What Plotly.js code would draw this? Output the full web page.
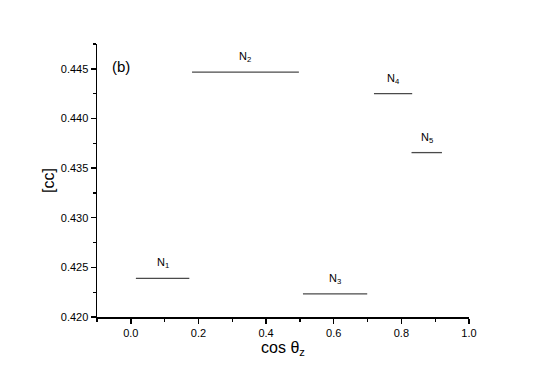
<!DOCTYPE html>
<html>
<head>
<meta charset="utf-8">
<script src="https://cdn.plot.ly/plotly-3.0.1.min.js"></script>
<style>
  html, body { margin: 0; padding: 0; background: #fff; }
  #chart { width: 545px; height: 380px; }
</style>
</head>
<body>
<div id="chart"></div>
<script>
// segmentos horizontais
var names = ['N<sub>1</sub>', 'N<sub>2</sub>', 'N<sub>3</sub>', 'N<sub>4</sub>', 'N<sub>5</sub>'];
var xStart = [0.015, 0.181, 0.509, 0.719, 0.830];
var xEnd = [0.173, 0.497, 0.699, 0.832, 0.920];
var cc = [0.4239, 0.44467, 0.42232, 0.44251, 0.43656];

var data = [];
var annotations = [];
for (var i = 0; i < names.length; i++) {
    data.push({
        x: [xStart[i], xEnd[i]],
        y: [cc[i], cc[i]],
        mode: 'lines',
        type: 'scatter',
        line: { color: '#4a4a4a', width: 1.3 },
        hoverinfo: 'none'
    });
    annotations.push({
        x: (xStart[i] + xEnd[i]) / 2,
        y: cc[i],
        xref: 'x',
        yref: 'y',
        text: names[i],
        showarrow: false,
        yshift: 15,
        font: { family: 'Arial, Liberation Sans, sans-serif', size: 11, color: '#000' }
    });
}

annotations.push({
    xref: 'paper',
    yref: 'paper',
    x: 0.065,
    y: 0.955,
    xanchor: 'center',
    text: '(b)',
    showarrow: false,
    font: { family: 'Arial, Liberation Sans, sans-serif', size: 15, color: '#000' }
});

var tickFont = { family: 'Arial, Liberation Sans, sans-serif', size: 11, color: '#000' };

var layout = {
    width: 545,
    height: 380,
    margin: { l: 97, r: 76, t: 44, b: 63 },
    paper_bgcolor: '#fff',
    plot_bgcolor: '#fff',
    showlegend: false,
    xaxis: {
        range: [-0.1, 1.0],
        tickmode: 'linear',
        tick0: 0,
        dtick: 0.2,
        tickformat: '.1f',
        ticks: 'outside',
        ticklen: 5,
        tickwidth: 1.5,
        tickcolor: '#000',
        minor: { dtick: 0.1, tick0: 0, ticks: 'outside', ticklen: 3, tickwidth: 1.2, tickcolor: '#000', showgrid: false },
        showline: true,
        linecolor: '#000',
        linewidth: 1.5,
        showgrid: false,
        zeroline: false,
        tickfont: tickFont,
        title: { text: 'cos θ<sub>z</sub>', font: { family: 'Arial, Liberation Sans, sans-serif', size: 16, color: '#000' }, standoff: 3 }
    },
    yaxis: {
        range: [0.420, 0.4475],
        tickmode: 'linear',
        tick0: 0.420,
        dtick: 0.005,
        tickformat: '.3f',
        ticks: 'outside',
        ticklen: 5,
        tickwidth: 1.5,
        tickcolor: '#000',
        minor: { dtick: 0.0025, tick0: 0.420, ticks: 'outside', ticklen: 3, tickwidth: 1.2, tickcolor: '#000', showgrid: false },
        showline: true,
        linecolor: '#000',
        linewidth: 1.5,
        showgrid: false,
        zeroline: false,
        tickfont: tickFont,
        title: { text: '[cc]', font: { family: 'Arial, Liberation Sans, sans-serif', size: 16, color: '#000' }, standoff: 2 }
    },
    annotations: annotations
};

Plotly.newPlot('chart', data, layout, { displayModeBar: false, staticPlot: true });
</script>
</body>
</html>
